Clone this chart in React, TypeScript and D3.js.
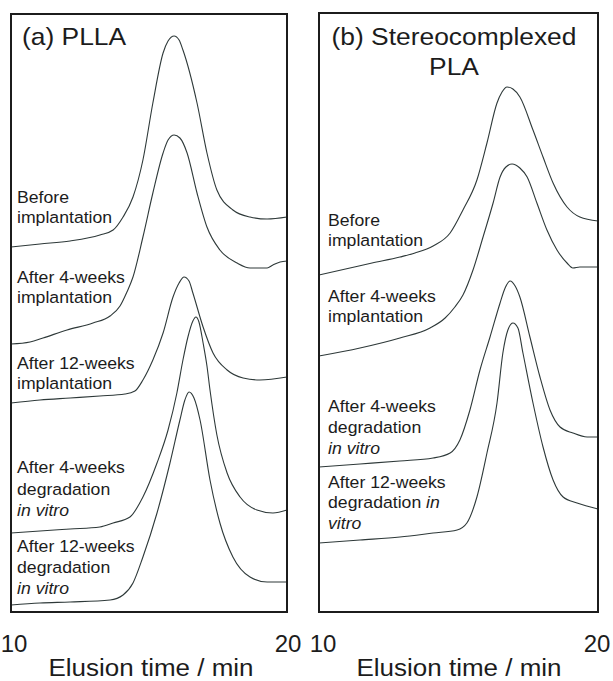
import React from "react";
import * as d3 from "d3";

// ---- Data: elution time (min) vs detector signal (a.u., vertically offset) ----
type Pt = [number, number];

// Panel (a) PLLA
const plla_before: Pt[] = [
  [10.0, 366], [11.05, 369], [12.14, 372], [13.22, 378], [13.7, 383], [14.06, 396],
  [14.42, 416], [14.78, 453], [15.14, 510], [15.51, 560], [15.69, 572], [15.91, 577],
  [16.09, 573], [16.23, 563], [16.74, 510], [17.1, 460], [17.46, 423], [18.04, 403],
  [18.66, 396], [19.28, 394], [20.0, 396],
];
const plla_imp4: Pt[] = [
  [10.0, 269], [10.69, 271], [11.16, 275], [12.03, 283], [12.97, 290], [13.59, 297],
  [13.95, 307], [14.2, 321], [14.42, 336], [14.78, 376], [15.14, 420], [15.51, 460],
  [15.69, 473], [15.91, 478], [16.12, 475], [16.38, 460], [16.74, 420], [17.1, 386],
  [17.57, 363], [18.19, 350], [18.66, 345], [19.28, 345], [19.49, 348], [19.75, 351], [20.0, 352],
];
const plla_imp12: Pt[] = [
  [10.0, 210], [11.05, 213], [12.14, 215], [13.22, 217], [14.13, 219], [14.49, 222],
  [14.78, 233], [15.14, 253], [15.51, 280], [15.87, 316], [16.09, 330], [16.27, 336],
  [16.45, 332], [16.59, 320], [16.96, 286], [17.32, 260], [17.83, 243], [18.41, 235],
  [19.02, 233], [20.0, 236],
];
const plla_deg4: Pt[] = [
  [10.0, 80], [11.05, 82], [12.14, 84], [13.22, 86], [13.7, 90], [14.31, 96], [14.78, 116],
  [15.29, 150], [15.69, 183], [16.01, 220], [16.23, 253], [16.41, 276], [16.59, 292],
  [16.7, 296], [16.81, 291], [16.96, 270], [17.1, 247], [17.21, 223], [17.46, 178],
  [17.83, 140], [18.3, 116], [18.91, 103], [19.49, 100], [20.0, 103],
];
const plla_deg12: Pt[] = [
  [10.0, 8], [11.05, 10], [12.14, 11], [13.59, 13], [14.06, 18], [14.42, 30], [14.78, 56],
  [15.29, 100], [15.76, 150], [16.12, 193], [16.3, 213], [16.45, 221], [16.63, 215],
  [16.85, 193], [17.21, 133], [17.57, 90], [18.04, 56], [18.66, 36], [19.28, 31], [20.0, 31],
];

// Panel (b) Stereocomplexed PLA
const sc_before: Pt[] = [
  [10.0, 338], [11.11, 345], [11.9, 350], [12.9, 356], [13.44, 360], [14.09, 367],
  [14.7, 380], [15.16, 403], [15.66, 433], [16.02, 470], [16.38, 510], [16.56, 521],
  [16.74, 526], [16.95, 524], [17.2, 516], [17.67, 483], [18.03, 456], [18.39, 430],
  [18.89, 406], [19.35, 396], [20.0, 392],
];
const sc_imp4: Pt[] = [
  [10.0, 257], [11.47, 265], [12.9, 275], [13.98, 285], [14.52, 295], [14.87, 306],
  [15.16, 318], [15.52, 343], [15.88, 376], [16.24, 410], [16.49, 436], [16.7, 446],
  [16.92, 449], [17.2, 445], [17.46, 436], [17.81, 410], [18.17, 383], [18.53, 363],
  [18.89, 350], [19.1, 345], [19.35, 346], [20.0, 346],
];
const sc_deg4: Pt[] = [
  [10.0, 146], [11.47, 149], [12.9, 152], [14.09, 155], [14.7, 160], [15.05, 173],
  [15.41, 203], [15.77, 243], [16.13, 276], [16.49, 310], [16.67, 325], [16.85, 332],
  [17.03, 327], [17.2, 316], [17.56, 276], [17.92, 236], [18.28, 203], [18.64, 186],
  [19.1, 180], [19.61, 176], [20.0, 176],
];
const sc_deg12: Pt[] = [
  [10.0, 70], [11.47, 73], [12.9, 76], [14.09, 80], [14.95, 83], [15.3, 90], [15.66, 116],
  [16.02, 160], [16.38, 210], [16.59, 260], [16.77, 283], [16.95, 290], [17.13, 285],
  [17.31, 260], [17.67, 210], [18.03, 166], [18.39, 133], [18.75, 116], [19.25, 110], [20.0, 104],
];

const xTicks = [10, 20];
const xTitle = "Elusion time / min";

// Labels: each line is a list of [text, italic] pieces
type Piece = [string, boolean];
type Label = { lines: Piece[][]; baselines: number[] };

const plla_labels: Label[] = [
  { lines: [[["Before", false]], [["implantation", false]]], baselines: [203, 223] },
  { lines: [[["After 4-weeks", false]], [["implantation", false]]], baselines: [283, 303] },
  { lines: [[["After 12-weeks", false]], [["implantation", false]]], baselines: [369, 389] },
  { lines: [[["After 4-weeks", false]], [["degradation", false]], [["in vitro", true]]], baselines: [473, 495, 516] },
  { lines: [[["After 12-weeks", false]], [["degradation", false]], [["in vitro", true]]], baselines: [552, 573, 594] },
];
const sc_labels: Label[] = [
  { lines: [[["Before", false]], [["implantation", false]]], baselines: [226, 246] },
  { lines: [[["After 4-weeks", false]], [["implantation", false]]], baselines: [302, 322] },
  { lines: [[["After 4-weeks", false]], [["degradation", false]], [["in vitro", true]]], baselines: [412, 433, 454] },
  { lines: [[["After 12-weeks", false]], [["degradation ", false], ["in", true]], [["vitro", true]]], baselines: [488, 508, 529] },
];

const FONT = "'Liberation Sans', Arial, Helvetica, sans-serif";
const INK = "#1c1c1c";
const CURVE = "#2e3939";

type PanelProps = {
  x0: number; x1: number; top: number; bottom: number;
  series: Pt[][]; labels: Label[]; labelX: number;
  title: React.ReactNode; titleCenter: number; tickShift: number[];
};

function SText(props: { x: number; y: number; size: number; sx?: number; anchor?: string; children: React.ReactNode }) {
  const { x, y, size, sx = 1.1, anchor = "start", children } = props;
  return (
    <text transform={`translate(${x},${y}) scale(${sx},1)`} fontSize={size} fontFamily={FONT} fill={INK} textAnchor={anchor}>
      {children}
    </text>
  );
}

function Panel({ x0, x1, top, bottom, series, labels, labelX, title, titleCenter, tickShift }: PanelProps) {
  const x = d3.scaleLinear().domain([10, 20]).range([x0, x1]);
  const y = d3.scaleLinear().domain([0, 600]).range([613, 13]);
  const line = d3.line<Pt>().x((d) => x(d[0])).y((d) => y(d[1])).curve(d3.curveMonotoneX);
  return (
    <g>
      {series.map((s, i) => (
        <path key={i} d={line(s) || ""} fill="none" stroke={CURVE} strokeWidth={1.1} strokeLinejoin="round" />
      ))}
      <rect x={x0} y={top} width={x1 - x0} height={bottom - top} fill="none" stroke={INK} strokeWidth={2} />
      {title}
      {labels.map((lab, i) => (
        <g key={i}>
          {lab.lines.map((ln, j) => (
            <SText key={j} x={labelX} y={lab.baselines[j]} size={16.5} sx={1.07}>
              {ln.map((p, k) => (
                <tspan key={k} fontStyle={p[1] ? "italic" : "normal"}>{p[0]}</tspan>
              ))}
            </SText>
          ))}
        </g>
      ))}
      {xTicks.map((t, i) => (
        <SText key={t} x={x(t) + tickShift[i]} y={652} size={24} sx={1.0} anchor="middle">{String(t)}</SText>
      ))}
      <SText x={titleCenter} y={676} size={23} sx={1.13} anchor="middle">{xTitle}</SText>
    </g>
  );
}

export default function App() {
  return (
    <svg width={613} height={681} style={{ position: "absolute", left: 0, top: 0, background: "#fff", display: "block" }}>
      <rect x={0} y={0} width={613} height={681} fill="#fff" />
      <Panel
        x0={11} x1={287} top={14} bottom={612}
        series={[plla_before, plla_imp4, plla_imp12, plla_deg4, plla_deg12]}
        labels={plla_labels} labelX={17}
        titleCenter={151} tickShift={[3, 1]}
        title={<SText x={22} y={45} size={24}>(a) PLLA</SText>}
      />
      <Panel
        x0={319} x1={598} top={13} bottom={612}
        series={[sc_before, sc_imp4, sc_deg4, sc_deg12]}
        labels={sc_labels} labelX={328}
        titleCenter={459} tickShift={[4, -1]}
        title={
          <g>
            <SText x={454} y={45} size={24} anchor="middle">(b) Stereocomplexed</SText>
            <SText x={454} y={75} size={24} anchor="middle">PLA</SText>
          </g>
        }
      />
    </svg>
  );
}
